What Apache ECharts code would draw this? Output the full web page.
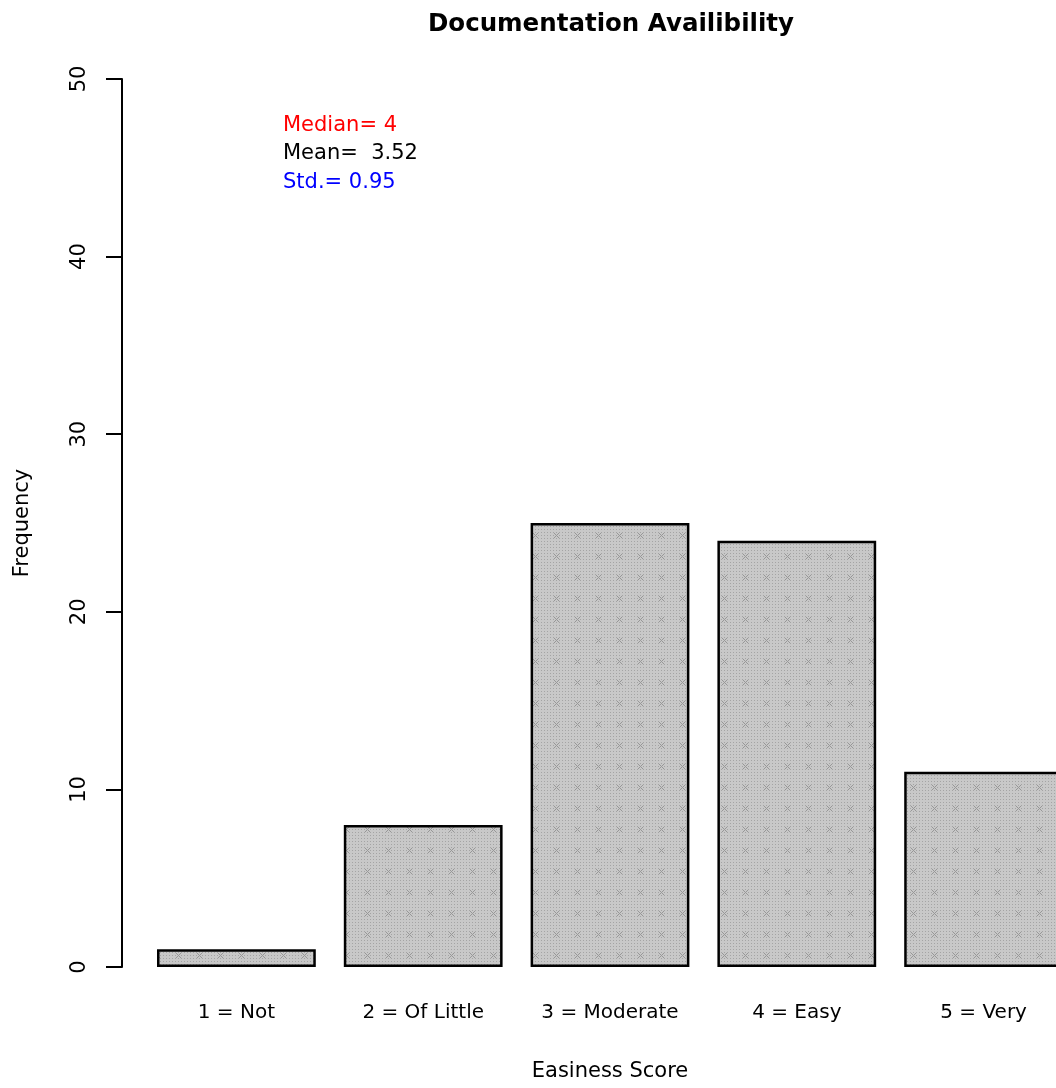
<!DOCTYPE html>
<html>
<head>
<meta charset="utf-8">
<script src="https://cdn.jsdelivr.net/npm/echarts@6/dist/echarts.min.js"></script>
<style>
  html, body { margin: 0; padding: 0; background: #fff; }
  #chart { width: 1056px; height: 1088px; }
</style>
</head>
<body>
<div id="chart"></div>
<script>
// Survey scores and their counts
const categories = ['1 = Not', '2 = Of Little', '3 = Moderate', '4 = Easy', '5 = Very'];
const frequencies = [1, 8, 25, 24, 11];
const yTicks = [0, 10, 20, 30, 40, 50];
const summaryLines = [
  { text: 'Median= 4', color: '#ff0000' },
  { text: 'Mean=  3.52', color: '#000000' },
  { text: 'Std.= 0.95', color: '#0000ff' }
];

// Stippled gray fill with faint crosses, like a shaded bar
function makePattern() {
  const c = document.createElement('canvas');
  c.width = 21; c.height = 21;
  const g = c.getContext('2d');
  g.fillStyle = '#c8c8c8';
  g.fillRect(0, 0, 21, 21);
  g.fillStyle = '#a4a4a4';
  for (let x = 1; x < 21; x += 3) {
    for (let y = 1; y < 21; y += 3) {
      g.fillRect(x, y, 1, 1);
    }
  }
  g.strokeStyle = '#979797';
  g.lineWidth = 1;
  g.beginPath();
  g.moveTo(8, 8); g.lineTo(13, 13);
  g.moveTo(13, 8); g.lineTo(8, 13);
  g.stroke();
  return c;
}

const chart = echarts.init(document.getElementById('chart'), null, { renderer: 'canvas' });
const font = '"DejaVu Sans", "Liberation Sans", Arial, sans-serif';

chart.setOption({
  animation: false,
  backgroundColor: '#ffffff',
  title: {
    text: 'Documentation Availibility',
    left: 606,
    textAlign: 'center',
    top: 7,
    textStyle: { fontFamily: font, fontSize: 24.5, fontWeight: 'bold', color: '#000' }
  },
  grid: { left: 143, top: 79, width: 934, bottom: 121, outerBoundsMode: 'none', containLabel: false },
  xAxis: {
    type: 'category',
    data: categories,
    axisLine: { show: false },
    axisTick: { show: false },
    axisLabel: { margin: 36, fontFamily: font, fontSize: 20, color: '#000' },
    name: 'Easiness Score',
    nameLocation: 'middle',
    nameGap: 94,
    nameTextStyle: { fontFamily: font, fontSize: 21, color: '#000' }
  },
  yAxis: {
    type: 'value',
    min: yTicks[0],
    max: yTicks[yTicks.length - 1],
    interval: yTicks[1] - yTicks[0],
    offset: 21,
    splitLine: { show: false },
    axisLine: { show: true, lineStyle: { color: '#000', width: 2 } },
    axisTick: { show: true, length: 16, lineStyle: { color: '#000', width: 2 } },
    axisLabel: { rotate: 90, margin: 32, fontFamily: font, fontSize: 21, color: '#000' },
    name: 'Frequency',
    nameLocation: 'middle',
    nameGap: 89,
    nameRotate: 90,
    nameTextStyle: { fontFamily: font, fontSize: 21, color: '#000' }
  },
  series: [{
    type: 'bar',
    data: frequencies,
    barCategoryGap: '15%',
    itemStyle: {
      color: { image: makePattern(), repeat: 'repeat' },
      borderColor: '#000',
      borderWidth: 2.5
    }
  }],
  graphic: summaryLines.map((s, i) => ({
    type: 'text',
    left: 283,
    top: 115 + i * 28.5,
    style: { text: s.text, fill: s.color, font: '21px ' + font }
  }))
});
</script>
</body>
</html>
